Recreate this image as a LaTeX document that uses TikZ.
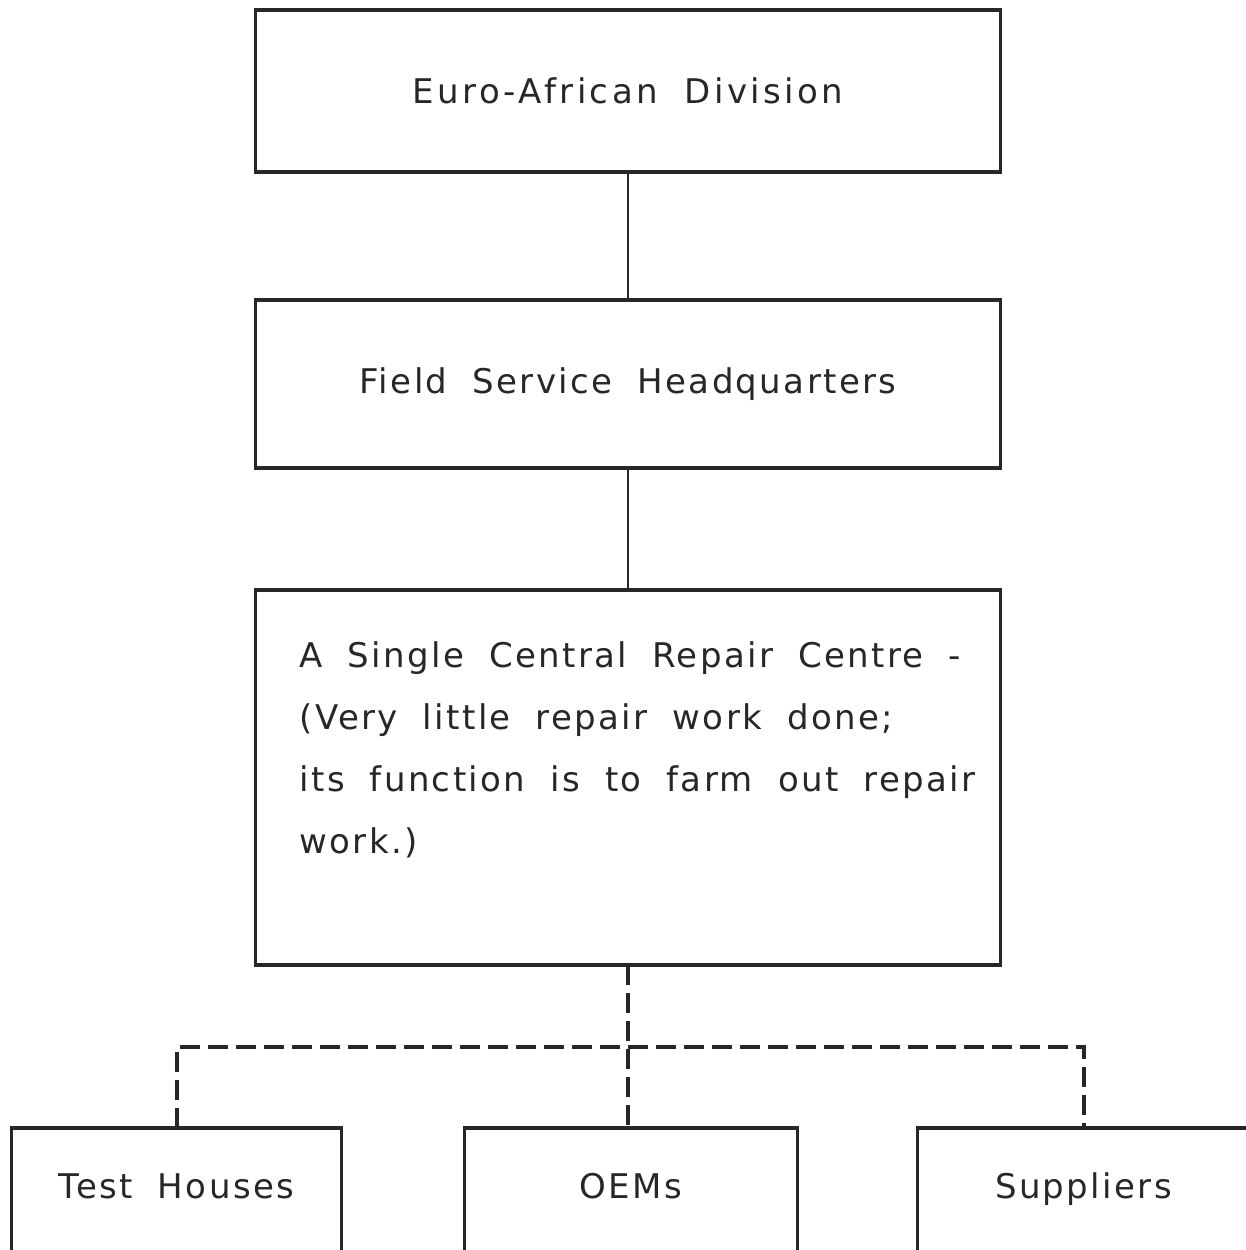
\documentclass[tikz,border=0pt]{standalone}
\usepackage{fontspec}
\setmainfont[LetterSpace=7,WordSpace=1.9]{DejaVu Sans}
\usetikzlibrary{positioning,calc}
\definecolor{ink}{RGB}{40,38,38}
\tikzstyle{block} = [rectangle, draw=ink, line width=1.8pt, text=ink,
    inner sep=0pt, outer sep=0pt, minimum width=372.5pt, font=\fontsize{17}{31}\selectfont]
\tikzstyle{leaf} = [block, minimum height=65pt, text height=0.73em, text depth=0.2em]
\tikzstyle{line} = [draw=ink, line width=1.4pt]
\tikzstyle{dashline} = [draw=ink, line width=2pt, dash pattern=on 10pt off 4pt]

\begin{document}
\begin{tikzpicture}[x=0.5pt, y=-0.5pt]
	\useasboundingbox (0,0) rectangle (1246,1250);

		\node [block, minimum height=81pt, font=\fontsize{17}{31}\selectfont\addfontfeature{LetterSpace=10}]
			(euro) at (628,91) {Euro-African Division};
		\node [block, minimum height=84pt, below=64pt of euro] (field) {Field Service Headquarters};
		\node [block, minimum height=187.5pt, below=61pt of field] (repair) {};
		\node [block, anchor=north west, draw=none, minimum width=0pt, align=left]
			(repairtext) at ($(repair.north west)+(44,52)$)
			{A Single Central Repair Centre -\\(Very little repair work done;\\its function is to farm out repair\\work.)};

		\node [leaf, minimum width=166.5pt] (oems) at (631,1193) {OEMs};
		\node [leaf, minimum width=165pt, left=61.5pt of oems] (test) {Test Houses};
		\node [leaf, minimum width=166pt, right=60pt of oems] (suppliers) {Suppliers};

		\path [line] (euro) -- (field);
		\path [line] (field) -- (repair);

		\coordinate (split) at ($(repair.south)+(0,82)$);
		\path [dashline] (repair) -- (repair |- oems.north);
		\path [dashline] (test.north) |- (split) -| (suppliers.north);
	\end{tikzpicture}
\end{document}
